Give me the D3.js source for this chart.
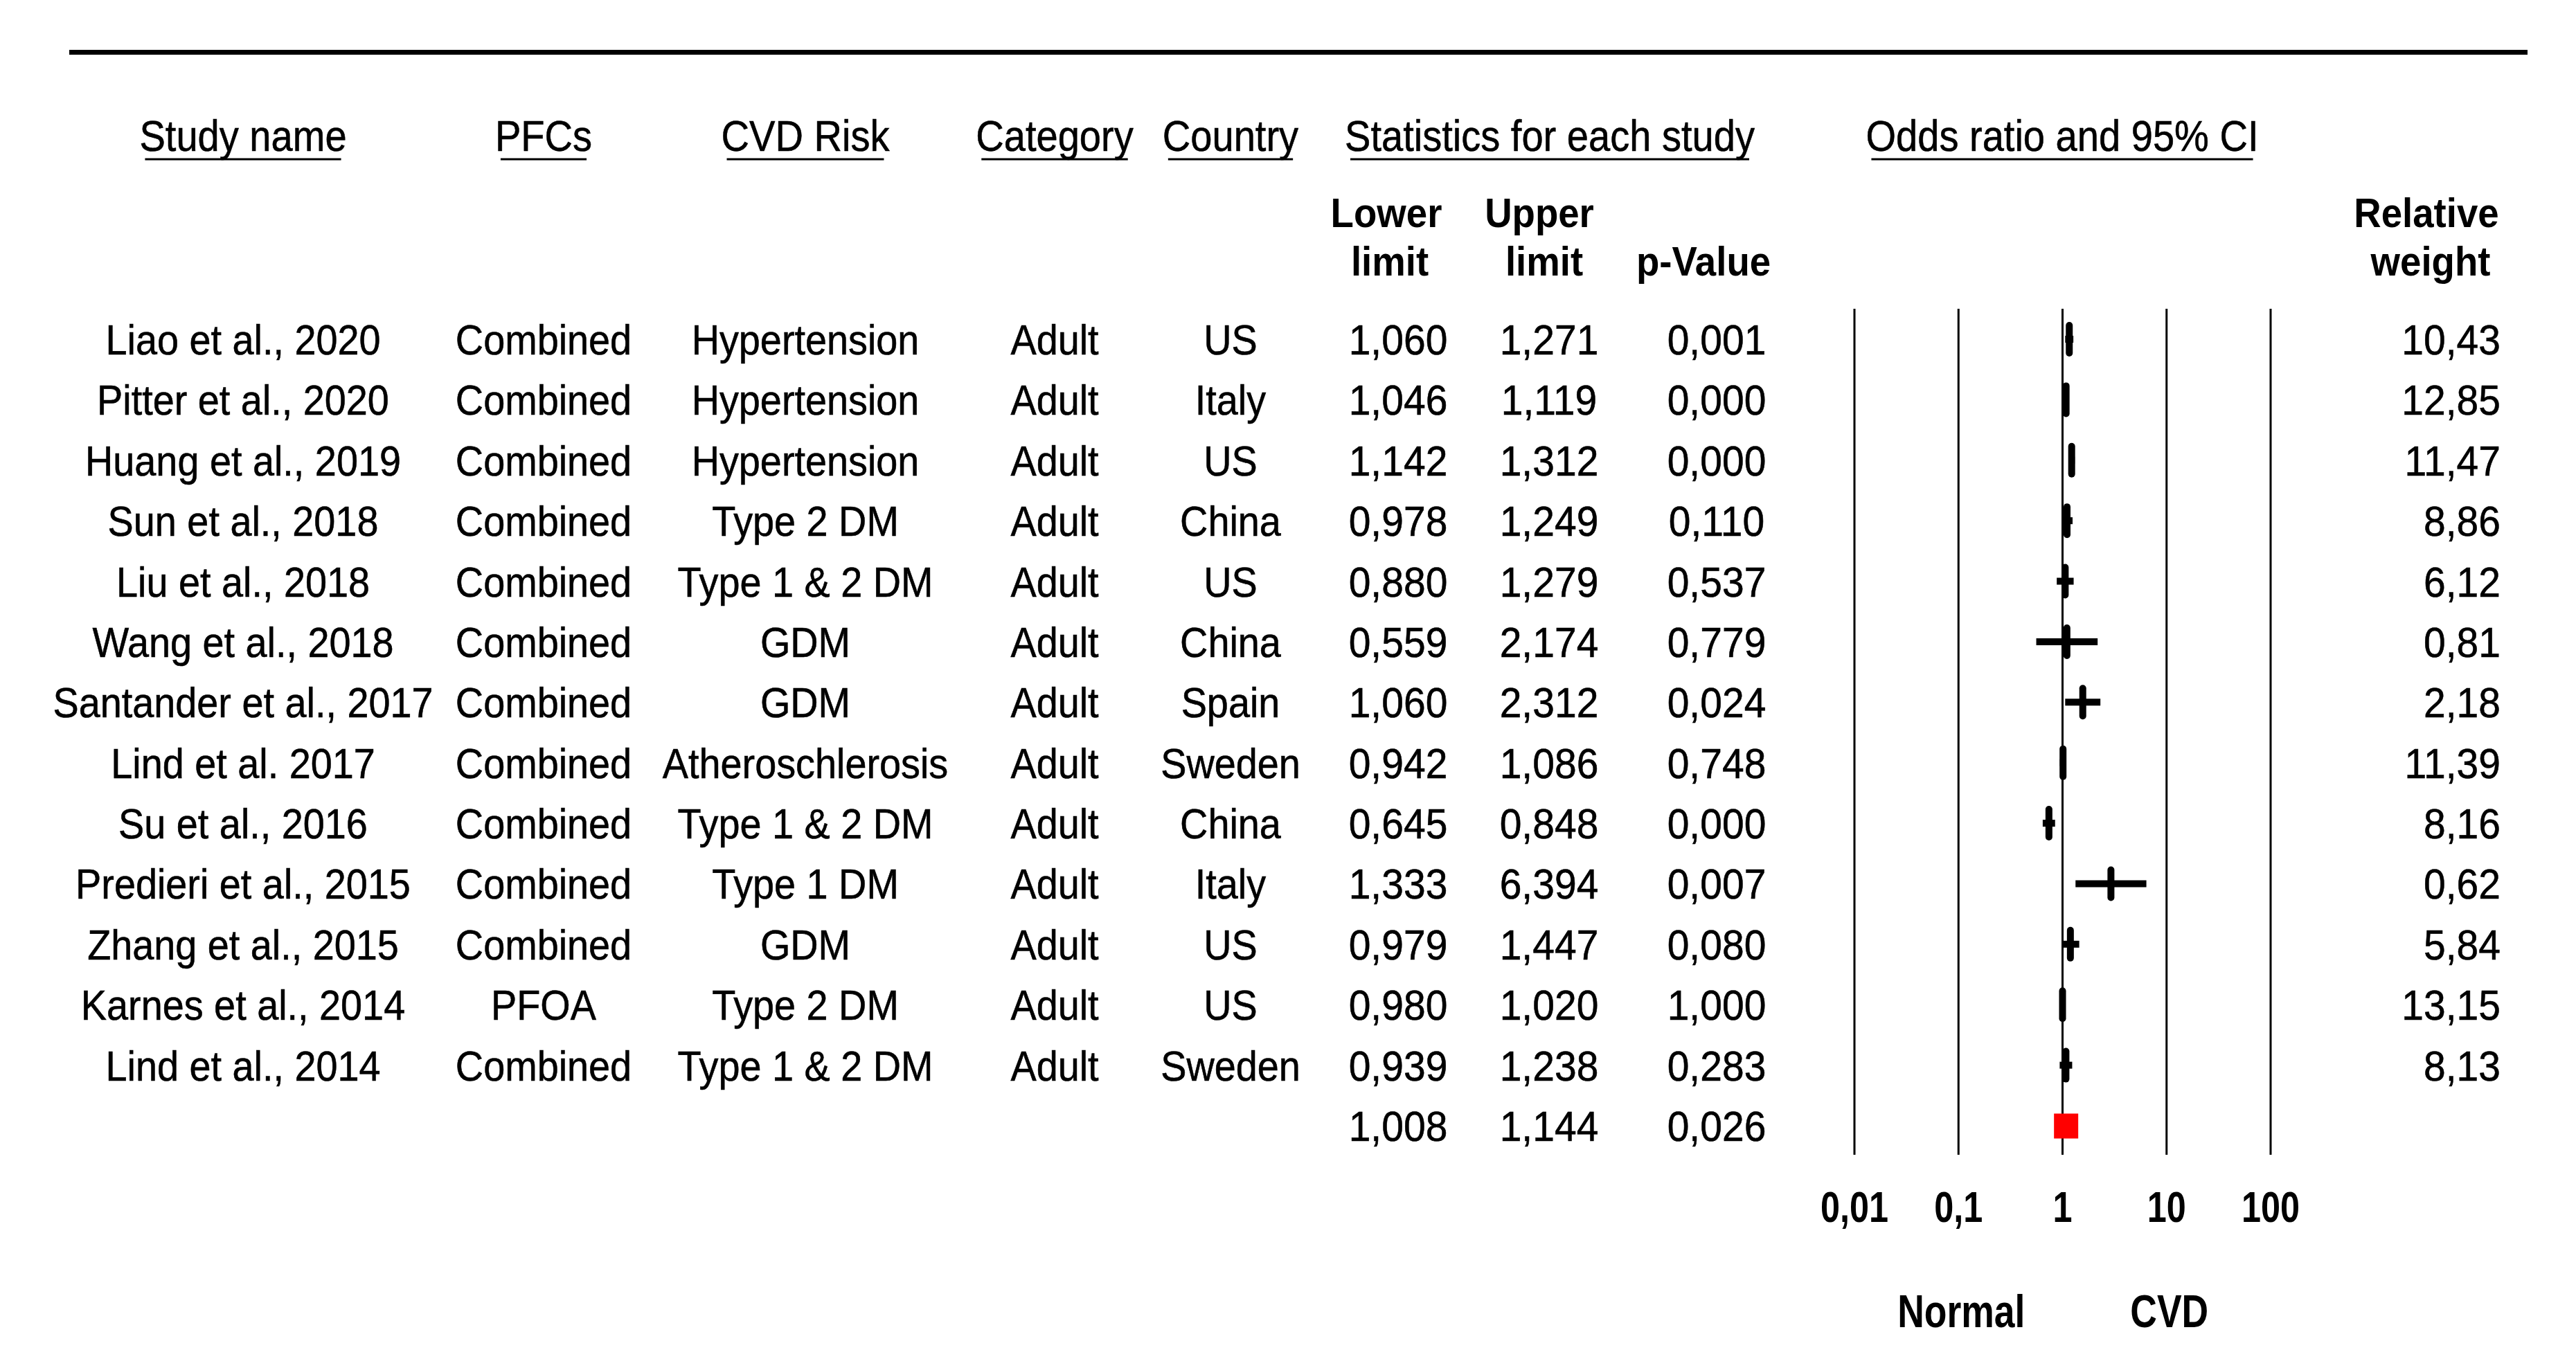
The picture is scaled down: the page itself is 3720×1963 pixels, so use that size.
<!DOCTYPE html>
<html><head><meta charset="utf-8">
<script src="https://cdn.jsdelivr.net/npm/d3@7"></script>
<style>body{margin:0;background:#fff}svg{display:block}text{font-family:"Liberation Sans",Arial,sans-serif;fill:#000}</style>
</head><body>
<script>
const studies = ["Liao et al., 2020","Pitter et al., 2020","Huang et al., 2019","Sun et al., 2018","Liu et al., 2018","Wang et al., 2018","Santander et al., 2017","Lind et al. 2017","Su et al., 2016","Predieri et al., 2015","Zhang et al., 2015","Karnes et al., 2014","Lind et al., 2014"];
const pfcs = ["Combined","Combined","Combined","Combined","Combined","Combined","Combined","Combined","Combined","Combined","Combined","PFOA","Combined"];
const cvdRisk = ["Hypertension","Hypertension","Hypertension","Type 2 DM","Type 1 & 2 DM","GDM","GDM","Atheroschlerosis","Type 1 & 2 DM","Type 1 DM","GDM","Type 2 DM","Type 1 & 2 DM"];
const category = ["Adult","Adult","Adult","Adult","Adult","Adult","Adult","Adult","Adult","Adult","Adult","Adult","Adult"];
const country = ["US","Italy","US","China","US","China","Spain","Sweden","China","Italy","US","US","Sweden"];
const lowerLimit = [1.060,1.046,1.142,0.978,0.880,0.559,1.060,0.942,0.645,1.333,0.979,0.980,0.939];
const upperLimit = [1.271,1.119,1.312,1.249,1.279,2.174,2.312,1.086,0.848,6.394,1.447,1.020,1.238];
const pValue = [0.001,0.000,0.000,0.110,0.537,0.779,0.024,0.748,0.000,0.007,0.080,1.000,0.283];
const oddsRatio = [1.161,1.082,1.224,1.105,1.061,1.102,1.565,1.011,0.740,2.919,1.190,1.000,1.078];
const relWeight = [10.43,12.85,11.47,8.86,6.12,0.81,2.18,11.39,8.16,0.62,5.84,13.15,8.13];
const summary = {lower:1.008, upper:1.144, p:0.026, or:1.074};
const axisTicks = [0.01,0.1,1,10,100];
const axisTickLabels = ["0,01","0,1","1","10","100"];
const sideLabels = ["Normal","CVD"];
const sideLabelAt = [0.1,10];

const W=3720,H=1963;
const svg=d3.select("body").append("svg").attr("width",W).attr("height",H);
const fmt3 = v => v.toFixed(3).replace(".",",");
const fmt2 = v => v.toFixed(2).replace(".",",");

const x = d3.scaleLog().domain([0.01,100]).range([2678,3279]);
const rowY = d3.scaleLinear().domain([0,13]).range([490,1626]);

function txt(str, cx, baseline, opt={}){
  const size=opt.size||62, sx=opt.sx||0.9, anchor=opt.anchor||"middle";
  const g=svg.append("g").attr("transform",`translate(${cx},${baseline}) scale(${sx},1)`);
  const t=g.append("text").attr("x",0).attr("y",0).attr("text-anchor",anchor)
    .attr("font-size",size).attr("font-weight",opt.bold?"bold":"normal")
    .attr("stroke","#000").attr("stroke-width",opt.bold?0:0.6).text(str);
  return {t, w: t.node().getComputedTextLength()*sx};
}

svg.append("line").attr("x1",100).attr("x2",3650).attr("y1",75.5).attr("y2",75.5).attr("stroke","#000").attr("stroke-width",7);

const headers=[["Study name",351],["PFCs",785],["CVD Risk",1163],["Category",1523],["Country",1777],["Statistics for each study",2238],["Odds ratio and 95% CI",2978]];
headers.forEach(([s,cx])=>{
  const r=txt(s,cx,218,{size:63,sx:0.89});
  svg.append("line").attr("x1",cx-r.w/2+8).attr("x2",cx+r.w/2-8).attr("y1",230).attr("y2",230).attr("stroke","#000").attr("stroke-width",3);
});
[["Lower",2002,328],["limit",2007,398],["Upper",2223,328],["limit",2230,398],["p-Value",2460,398],["Relative",3504,328],["weight",3510,398]]
  .forEach(([s,cx,y])=>txt(s,cx,y,{size:60,bold:true,sx:0.91}));

svg.append("g").selectAll("line").data(axisTicks).join("line")
  .attr("x1",d=>x(d)).attr("x2",d=>x(d)).attr("y1",446).attr("y2",1668)
  .attr("stroke","#000").attr("stroke-width",3);

studies.forEach((s,i)=>{
  const b=rowY(i)+22;
  txt(s,351,b); txt(pfcs[i],785,b); txt(cvdRisk[i],1163,b); txt(category[i],1523,b); txt(country[i],1777,b);
  txt(fmt3(lowerLimit[i]),2019,b,{sx:0.92}); txt(fmt3(upperLimit[i]),2237,b,{sx:0.92}); txt(fmt3(pValue[i]),2479,b,{sx:0.92});
  txt(fmt2(relWeight[i]),3611,b,{anchor:"end",sx:0.92});
});
const sb=rowY(13)+22;
txt(fmt3(summary.lower),2019,sb,{sx:0.92}); txt(fmt3(summary.upper),2237,sb,{sx:0.92}); txt(fmt3(summary.p),2479,sb,{sx:0.92});

const marks=svg.append("g");
marks.selectAll("line.ci").data(studies.map((s,i)=>i)).join("line").attr("class","ci")
  .attr("x1",i=>x(lowerLimit[i])).attr("x2",i=>x(upperLimit[i]))
  .attr("y1",i=>rowY(i)).attr("y2",i=>rowY(i)).attr("stroke","#000").attr("stroke-width",10);
marks.selectAll("line.pt").data(studies.map((s,i)=>i)).join("line").attr("class","pt")
  .attr("x1",i=>x(oddsRatio[i])).attr("x2",i=>x(oddsRatio[i]))
  .attr("y1",i=>rowY(i)-20).attr("y2",i=>rowY(i)+20).attr("stroke","#000").attr("stroke-width",10).attr("stroke-linecap","round");
svg.append("rect").attr("x",x(summary.or)-17).attr("y",rowY(13)-17.5).attr("width",35).attr("height",36).attr("fill","#ff0000");

axisTicks.forEach((t,i)=>txt(axisTickLabels[i],x(t),1765,{size:63,bold:true,sx:0.8}));
sideLabels.forEach((s,i)=>txt(s,x(sideLabelAt[i])+4,1917,{size:66,bold:true,sx:0.81}));
</script>
</body></html>
